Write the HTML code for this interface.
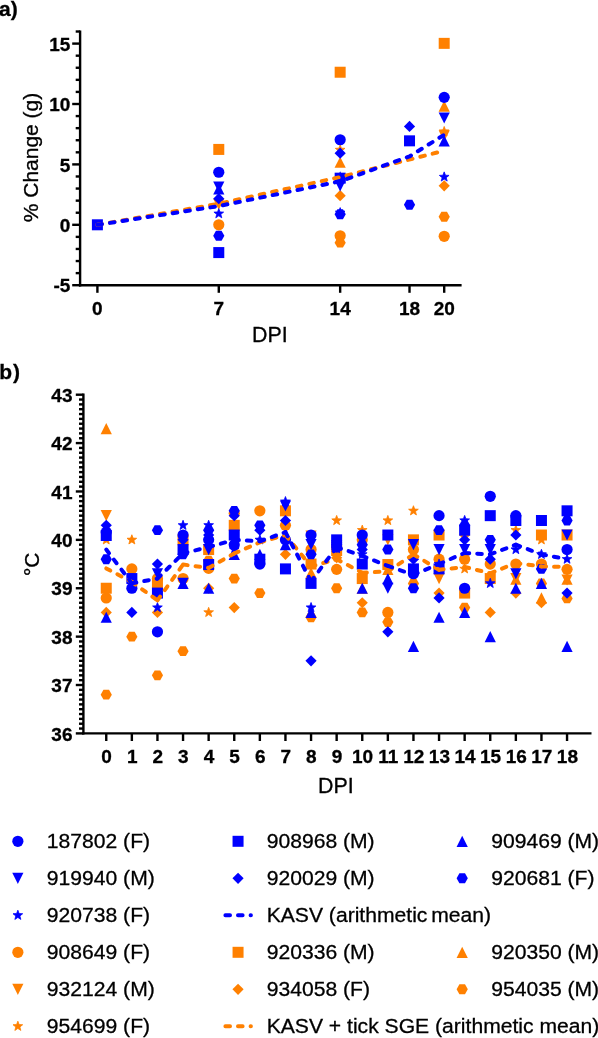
<!DOCTYPE html>
<html><head><meta charset="utf-8"><title>chart</title>
<style>html,body{margin:0;padding:0;background:#fff;}svg{display:block;will-change:transform;}text{font-family:"Liberation Sans", sans-serif;fill:#000;stroke:#000;stroke-width:0.3px;}</style></head><body>
<svg width="598" height="1038" viewBox="0 0 598 1038">
<rect x="0" y="0" width="598" height="1038" fill="#fff"/>
<text x="-1" y="15.6" font-size="21" text-anchor="start" font-weight="bold">a)</text>
<line x1="80.1" y1="30.42" x2="80.1" y2="286.4" stroke="#000" stroke-width="2.4"/>
<line x1="78.9" y1="285.2" x2="461.6" y2="285.2" stroke="#000" stroke-width="2.4"/>
<line x1="72.2" y1="285.2" x2="80.1" y2="285.2" stroke="#000" stroke-width="2.4"/>
<text x="70.3" y="292.3" font-size="19" text-anchor="end" font-weight="bold">-5</text>
<line x1="75.7" y1="273.12" x2="80.1" y2="273.12" stroke="#000" stroke-width="2.4"/>
<line x1="75.7" y1="261.04" x2="80.1" y2="261.04" stroke="#000" stroke-width="2.4"/>
<line x1="75.7" y1="248.96" x2="80.1" y2="248.96" stroke="#000" stroke-width="2.4"/>
<line x1="75.7" y1="236.88" x2="80.1" y2="236.88" stroke="#000" stroke-width="2.4"/>
<line x1="72.2" y1="224.8" x2="80.1" y2="224.8" stroke="#000" stroke-width="2.4"/>
<text x="70.3" y="231.9" font-size="19" text-anchor="end" font-weight="bold">0</text>
<line x1="75.7" y1="212.72" x2="80.1" y2="212.72" stroke="#000" stroke-width="2.4"/>
<line x1="75.7" y1="200.64" x2="80.1" y2="200.64" stroke="#000" stroke-width="2.4"/>
<line x1="75.7" y1="188.56" x2="80.1" y2="188.56" stroke="#000" stroke-width="2.4"/>
<line x1="75.7" y1="176.48" x2="80.1" y2="176.48" stroke="#000" stroke-width="2.4"/>
<line x1="72.2" y1="164.4" x2="80.1" y2="164.4" stroke="#000" stroke-width="2.4"/>
<text x="70.3" y="171.5" font-size="19" text-anchor="end" font-weight="bold">5</text>
<line x1="75.7" y1="152.32" x2="80.1" y2="152.32" stroke="#000" stroke-width="2.4"/>
<line x1="75.7" y1="140.24" x2="80.1" y2="140.24" stroke="#000" stroke-width="2.4"/>
<line x1="75.7" y1="128.16" x2="80.1" y2="128.16" stroke="#000" stroke-width="2.4"/>
<line x1="75.7" y1="116.08" x2="80.1" y2="116.08" stroke="#000" stroke-width="2.4"/>
<line x1="72.2" y1="104" x2="80.1" y2="104" stroke="#000" stroke-width="2.4"/>
<text x="70.3" y="111.1" font-size="19" text-anchor="end" font-weight="bold">10</text>
<line x1="75.7" y1="91.92" x2="80.1" y2="91.92" stroke="#000" stroke-width="2.4"/>
<line x1="75.7" y1="79.84" x2="80.1" y2="79.84" stroke="#000" stroke-width="2.4"/>
<line x1="75.7" y1="67.76" x2="80.1" y2="67.76" stroke="#000" stroke-width="2.4"/>
<line x1="75.7" y1="55.68" x2="80.1" y2="55.68" stroke="#000" stroke-width="2.4"/>
<line x1="72.2" y1="43.6" x2="80.1" y2="43.6" stroke="#000" stroke-width="2.4"/>
<text x="70.3" y="50.7" font-size="19" text-anchor="end" font-weight="bold">15</text>
<line x1="75.7" y1="31.52" x2="80.1" y2="31.52" stroke="#000" stroke-width="2.4"/>
<line x1="97.4" y1="285.2" x2="97.4" y2="292.8" stroke="#000" stroke-width="2.4"/>
<text x="97.4" y="314.6" font-size="19" text-anchor="middle" font-weight="bold">0</text>
<line x1="218.78" y1="285.2" x2="218.78" y2="292.8" stroke="#000" stroke-width="2.4"/>
<text x="218.78" y="314.6" font-size="19" text-anchor="middle" font-weight="bold">7</text>
<line x1="340.16" y1="285.2" x2="340.16" y2="292.8" stroke="#000" stroke-width="2.4"/>
<text x="340.16" y="314.6" font-size="19" text-anchor="middle" font-weight="bold">14</text>
<line x1="409.52" y1="285.2" x2="409.52" y2="292.8" stroke="#000" stroke-width="2.4"/>
<text x="409.52" y="314.6" font-size="19" text-anchor="middle" font-weight="bold">18</text>
<line x1="444.2" y1="285.2" x2="444.2" y2="292.8" stroke="#000" stroke-width="2.4"/>
<text x="444.2" y="314.6" font-size="19" text-anchor="middle" font-weight="bold">20</text>
<text x="269.8" y="342.2" font-size="21.4" text-anchor="middle">DPI</text>
<text transform="translate(37.5,157.5) rotate(-90)" font-size="21" text-anchor="middle">% Change (g)</text>
<text font-size="21" font-weight="bold" y="378.5"><tspan x="-0.8">b</tspan><tspan x="12.9">)</tspan></text>
<line x1="83.4" y1="393.6" x2="83.4" y2="734.6" stroke="#000" stroke-width="2.4"/>
<line x1="82.2" y1="733.4" x2="591.5" y2="733.4" stroke="#000" stroke-width="2.4"/>
<line x1="75.8" y1="733.4" x2="83.4" y2="733.4" stroke="#000" stroke-width="2.4"/>
<text x="72.5" y="740.5" font-size="19" text-anchor="end" font-weight="bold">36</text>
<line x1="79" y1="728.56" x2="83.4" y2="728.56" stroke="#000" stroke-width="2.4"/>
<line x1="79" y1="723.72" x2="83.4" y2="723.72" stroke="#000" stroke-width="2.4"/>
<line x1="79" y1="718.88" x2="83.4" y2="718.88" stroke="#000" stroke-width="2.4"/>
<line x1="79" y1="714.05" x2="83.4" y2="714.05" stroke="#000" stroke-width="2.4"/>
<line x1="79" y1="709.21" x2="83.4" y2="709.21" stroke="#000" stroke-width="2.4"/>
<line x1="79" y1="704.37" x2="83.4" y2="704.37" stroke="#000" stroke-width="2.4"/>
<line x1="79" y1="699.53" x2="83.4" y2="699.53" stroke="#000" stroke-width="2.4"/>
<line x1="79" y1="694.69" x2="83.4" y2="694.69" stroke="#000" stroke-width="2.4"/>
<line x1="79" y1="689.85" x2="83.4" y2="689.85" stroke="#000" stroke-width="2.4"/>
<line x1="75.8" y1="685.01" x2="83.4" y2="685.01" stroke="#000" stroke-width="2.4"/>
<text x="72.5" y="692.11" font-size="19" text-anchor="end" font-weight="bold">37</text>
<line x1="79" y1="680.18" x2="83.4" y2="680.18" stroke="#000" stroke-width="2.4"/>
<line x1="79" y1="675.34" x2="83.4" y2="675.34" stroke="#000" stroke-width="2.4"/>
<line x1="79" y1="670.5" x2="83.4" y2="670.5" stroke="#000" stroke-width="2.4"/>
<line x1="79" y1="665.66" x2="83.4" y2="665.66" stroke="#000" stroke-width="2.4"/>
<line x1="79" y1="660.82" x2="83.4" y2="660.82" stroke="#000" stroke-width="2.4"/>
<line x1="79" y1="655.98" x2="83.4" y2="655.98" stroke="#000" stroke-width="2.4"/>
<line x1="79" y1="651.14" x2="83.4" y2="651.14" stroke="#000" stroke-width="2.4"/>
<line x1="79" y1="646.31" x2="83.4" y2="646.31" stroke="#000" stroke-width="2.4"/>
<line x1="79" y1="641.47" x2="83.4" y2="641.47" stroke="#000" stroke-width="2.4"/>
<line x1="75.8" y1="636.63" x2="83.4" y2="636.63" stroke="#000" stroke-width="2.4"/>
<text x="72.5" y="643.73" font-size="19" text-anchor="end" font-weight="bold">38</text>
<line x1="79" y1="631.79" x2="83.4" y2="631.79" stroke="#000" stroke-width="2.4"/>
<line x1="79" y1="626.95" x2="83.4" y2="626.95" stroke="#000" stroke-width="2.4"/>
<line x1="79" y1="622.11" x2="83.4" y2="622.11" stroke="#000" stroke-width="2.4"/>
<line x1="79" y1="617.27" x2="83.4" y2="617.27" stroke="#000" stroke-width="2.4"/>
<line x1="79" y1="612.43" x2="83.4" y2="612.43" stroke="#000" stroke-width="2.4"/>
<line x1="79" y1="607.6" x2="83.4" y2="607.6" stroke="#000" stroke-width="2.4"/>
<line x1="79" y1="602.76" x2="83.4" y2="602.76" stroke="#000" stroke-width="2.4"/>
<line x1="79" y1="597.92" x2="83.4" y2="597.92" stroke="#000" stroke-width="2.4"/>
<line x1="79" y1="593.08" x2="83.4" y2="593.08" stroke="#000" stroke-width="2.4"/>
<line x1="75.8" y1="588.24" x2="83.4" y2="588.24" stroke="#000" stroke-width="2.4"/>
<text x="72.5" y="595.34" font-size="19" text-anchor="end" font-weight="bold">39</text>
<line x1="79" y1="583.4" x2="83.4" y2="583.4" stroke="#000" stroke-width="2.4"/>
<line x1="79" y1="578.56" x2="83.4" y2="578.56" stroke="#000" stroke-width="2.4"/>
<line x1="79" y1="573.73" x2="83.4" y2="573.73" stroke="#000" stroke-width="2.4"/>
<line x1="79" y1="568.89" x2="83.4" y2="568.89" stroke="#000" stroke-width="2.4"/>
<line x1="79" y1="564.05" x2="83.4" y2="564.05" stroke="#000" stroke-width="2.4"/>
<line x1="79" y1="559.21" x2="83.4" y2="559.21" stroke="#000" stroke-width="2.4"/>
<line x1="79" y1="554.37" x2="83.4" y2="554.37" stroke="#000" stroke-width="2.4"/>
<line x1="79" y1="549.53" x2="83.4" y2="549.53" stroke="#000" stroke-width="2.4"/>
<line x1="79" y1="544.69" x2="83.4" y2="544.69" stroke="#000" stroke-width="2.4"/>
<line x1="75.8" y1="539.86" x2="83.4" y2="539.86" stroke="#000" stroke-width="2.4"/>
<text x="72.5" y="546.96" font-size="19" text-anchor="end" font-weight="bold">40</text>
<line x1="79" y1="535.02" x2="83.4" y2="535.02" stroke="#000" stroke-width="2.4"/>
<line x1="79" y1="530.18" x2="83.4" y2="530.18" stroke="#000" stroke-width="2.4"/>
<line x1="79" y1="525.34" x2="83.4" y2="525.34" stroke="#000" stroke-width="2.4"/>
<line x1="79" y1="520.5" x2="83.4" y2="520.5" stroke="#000" stroke-width="2.4"/>
<line x1="79" y1="515.66" x2="83.4" y2="515.66" stroke="#000" stroke-width="2.4"/>
<line x1="79" y1="510.82" x2="83.4" y2="510.82" stroke="#000" stroke-width="2.4"/>
<line x1="79" y1="505.99" x2="83.4" y2="505.99" stroke="#000" stroke-width="2.4"/>
<line x1="79" y1="501.15" x2="83.4" y2="501.15" stroke="#000" stroke-width="2.4"/>
<line x1="79" y1="496.31" x2="83.4" y2="496.31" stroke="#000" stroke-width="2.4"/>
<line x1="75.8" y1="491.47" x2="83.4" y2="491.47" stroke="#000" stroke-width="2.4"/>
<text x="72.5" y="498.57" font-size="19" text-anchor="end" font-weight="bold">41</text>
<line x1="79" y1="486.63" x2="83.4" y2="486.63" stroke="#000" stroke-width="2.4"/>
<line x1="79" y1="481.79" x2="83.4" y2="481.79" stroke="#000" stroke-width="2.4"/>
<line x1="79" y1="476.95" x2="83.4" y2="476.95" stroke="#000" stroke-width="2.4"/>
<line x1="79" y1="472.12" x2="83.4" y2="472.12" stroke="#000" stroke-width="2.4"/>
<line x1="79" y1="467.28" x2="83.4" y2="467.28" stroke="#000" stroke-width="2.4"/>
<line x1="79" y1="462.44" x2="83.4" y2="462.44" stroke="#000" stroke-width="2.4"/>
<line x1="79" y1="457.6" x2="83.4" y2="457.6" stroke="#000" stroke-width="2.4"/>
<line x1="79" y1="452.76" x2="83.4" y2="452.76" stroke="#000" stroke-width="2.4"/>
<line x1="79" y1="447.92" x2="83.4" y2="447.92" stroke="#000" stroke-width="2.4"/>
<line x1="75.8" y1="443.08" x2="83.4" y2="443.08" stroke="#000" stroke-width="2.4"/>
<text x="72.5" y="450.18" font-size="19" text-anchor="end" font-weight="bold">42</text>
<line x1="79" y1="438.25" x2="83.4" y2="438.25" stroke="#000" stroke-width="2.4"/>
<line x1="79" y1="433.41" x2="83.4" y2="433.41" stroke="#000" stroke-width="2.4"/>
<line x1="79" y1="428.57" x2="83.4" y2="428.57" stroke="#000" stroke-width="2.4"/>
<line x1="79" y1="423.73" x2="83.4" y2="423.73" stroke="#000" stroke-width="2.4"/>
<line x1="79" y1="418.89" x2="83.4" y2="418.89" stroke="#000" stroke-width="2.4"/>
<line x1="79" y1="414.05" x2="83.4" y2="414.05" stroke="#000" stroke-width="2.4"/>
<line x1="79" y1="409.21" x2="83.4" y2="409.21" stroke="#000" stroke-width="2.4"/>
<line x1="79" y1="404.38" x2="83.4" y2="404.38" stroke="#000" stroke-width="2.4"/>
<line x1="79" y1="399.54" x2="83.4" y2="399.54" stroke="#000" stroke-width="2.4"/>
<line x1="75.8" y1="394.7" x2="83.4" y2="394.7" stroke="#000" stroke-width="2.4"/>
<text x="72.5" y="401.8" font-size="19" text-anchor="end" font-weight="bold">43</text>
<line x1="106.25" y1="733.4" x2="106.25" y2="741" stroke="#000" stroke-width="2.4"/>
<text x="106.6" y="762.8" font-size="19" text-anchor="middle" font-weight="bold">0</text>
<line x1="131.85" y1="733.4" x2="131.85" y2="741" stroke="#000" stroke-width="2.4"/>
<text x="132.2" y="762.8" font-size="19" text-anchor="middle" font-weight="bold">1</text>
<line x1="157.45" y1="733.4" x2="157.45" y2="741" stroke="#000" stroke-width="2.4"/>
<text x="157.8" y="762.8" font-size="19" text-anchor="middle" font-weight="bold">2</text>
<line x1="183.05" y1="733.4" x2="183.05" y2="741" stroke="#000" stroke-width="2.4"/>
<text x="183.4" y="762.8" font-size="19" text-anchor="middle" font-weight="bold">3</text>
<line x1="208.65" y1="733.4" x2="208.65" y2="741" stroke="#000" stroke-width="2.4"/>
<text x="209" y="762.8" font-size="19" text-anchor="middle" font-weight="bold">4</text>
<line x1="234.25" y1="733.4" x2="234.25" y2="741" stroke="#000" stroke-width="2.4"/>
<text x="234.6" y="762.8" font-size="19" text-anchor="middle" font-weight="bold">5</text>
<line x1="259.85" y1="733.4" x2="259.85" y2="741" stroke="#000" stroke-width="2.4"/>
<text x="260.2" y="762.8" font-size="19" text-anchor="middle" font-weight="bold">6</text>
<line x1="285.45" y1="733.4" x2="285.45" y2="741" stroke="#000" stroke-width="2.4"/>
<text x="285.8" y="762.8" font-size="19" text-anchor="middle" font-weight="bold">7</text>
<line x1="311.05" y1="733.4" x2="311.05" y2="741" stroke="#000" stroke-width="2.4"/>
<text x="311.4" y="762.8" font-size="19" text-anchor="middle" font-weight="bold">8</text>
<line x1="336.65" y1="733.4" x2="336.65" y2="741" stroke="#000" stroke-width="2.4"/>
<text x="337" y="762.8" font-size="19" text-anchor="middle" font-weight="bold">9</text>
<line x1="362.25" y1="733.4" x2="362.25" y2="741" stroke="#000" stroke-width="2.4"/>
<text x="362.6" y="762.8" font-size="19" text-anchor="middle" font-weight="bold">10</text>
<line x1="387.85" y1="733.4" x2="387.85" y2="741" stroke="#000" stroke-width="2.4"/>
<text x="388.2" y="762.8" font-size="19" text-anchor="middle" font-weight="bold">11</text>
<line x1="413.45" y1="733.4" x2="413.45" y2="741" stroke="#000" stroke-width="2.4"/>
<text x="413.8" y="762.8" font-size="19" text-anchor="middle" font-weight="bold">12</text>
<line x1="439.05" y1="733.4" x2="439.05" y2="741" stroke="#000" stroke-width="2.4"/>
<text x="439.4" y="762.8" font-size="19" text-anchor="middle" font-weight="bold">13</text>
<line x1="464.65" y1="733.4" x2="464.65" y2="741" stroke="#000" stroke-width="2.4"/>
<text x="465" y="762.8" font-size="19" text-anchor="middle" font-weight="bold">14</text>
<line x1="490.25" y1="733.4" x2="490.25" y2="741" stroke="#000" stroke-width="2.4"/>
<text x="490.6" y="762.8" font-size="19" text-anchor="middle" font-weight="bold">15</text>
<line x1="515.85" y1="733.4" x2="515.85" y2="741" stroke="#000" stroke-width="2.4"/>
<text x="516.2" y="762.8" font-size="19" text-anchor="middle" font-weight="bold">16</text>
<line x1="541.45" y1="733.4" x2="541.45" y2="741" stroke="#000" stroke-width="2.4"/>
<text x="541.8" y="762.8" font-size="19" text-anchor="middle" font-weight="bold">17</text>
<line x1="567.05" y1="733.4" x2="567.05" y2="741" stroke="#000" stroke-width="2.4"/>
<text x="567.4" y="762.8" font-size="19" text-anchor="middle" font-weight="bold">18</text>
<text x="335.9" y="792.8" font-size="21.4" text-anchor="middle">DPI</text>
<text transform="translate(39.3,564.3) rotate(-90)" font-size="21" text-anchor="middle">°C</text>
<circle cx="218.78" cy="224.8" r="5.6" fill="#ff8000"/>
<circle cx="340.16" cy="235.79" r="5.6" fill="#ff8000"/>
<circle cx="444.2" cy="236.28" r="5.6" fill="#ff8000"/>
<rect x="213.28" y="143.92" width="11" height="11" fill="#ff8000"/>
<rect x="334.66" y="66.73" width="11" height="11" fill="#ff8000"/>
<rect x="438.7" y="37.86" width="11" height="11" fill="#ff8000"/>
<polygon points="340.16,156.63 345.76,167.83 334.56,167.83" fill="#ff8000"/>
<polygon points="444.2,100.45 449.8,111.65 438.6,111.65" fill="#ff8000"/>
<polygon points="218.78,209.86 224.38,198.66 213.18,198.66" fill="#ff8000"/>
<polygon points="444.2,141.49 449.8,130.29 438.6,130.29" fill="#ff8000"/>
<polygon points="340.16,190.09 345.76,195.69 340.16,201.29 334.56,195.69" fill="#ff8000"/>
<polygon points="444.2,180.18 449.8,185.78 444.2,191.38 438.6,185.78" fill="#ff8000"/>
<polygon points="334.56,242.68 337.36,237.75 342.96,237.75 345.76,242.68 342.96,247.61 337.36,247.61" fill="#ff8000"/>
<polygon points="438.6,216.71 441.4,211.78 447,211.78 449.8,216.71 447,221.63 441.4,221.63" fill="#ff8000"/>
<polygon points="340.16,144.8 341.42,148.17 345.01,148.33 342.2,150.57 343.16,154.03 340.16,152.05 337.16,154.03 338.12,150.57 335.31,148.33 338.9,148.17" fill="#ff8000" stroke="#ff8000" stroke-width="0.8" stroke-linejoin="round"/>
<polygon points="444.2,126.44 445.46,129.81 449.05,129.97 446.24,132.2 447.2,135.67 444.2,133.68 441.2,135.67 442.16,132.2 439.35,129.97 442.94,129.81" fill="#ff8000" stroke="#ff8000" stroke-width="0.8" stroke-linejoin="round"/>
<circle cx="218.78" cy="172.25" r="5.6" fill="#0000ff"/>
<circle cx="340.16" cy="139.76" r="5.6" fill="#0000ff"/>
<circle cx="444.2" cy="97.36" r="5.6" fill="#0000ff"/>
<rect x="91.9" y="219.3" width="11" height="11" fill="#0000ff"/>
<rect x="213.28" y="247.08" width="11" height="11" fill="#0000ff"/>
<rect x="334.66" y="172.67" width="11" height="11" fill="#0000ff"/>
<rect x="404.02" y="135.34" width="11" height="11" fill="#0000ff"/>
<polygon points="218.78,183.32 224.38,194.52 213.18,194.52" fill="#0000ff"/>
<polygon points="340.16,171.24 345.76,182.44 334.56,182.44" fill="#0000ff"/>
<polygon points="444.2,135.24 449.8,146.44 438.6,146.44" fill="#0000ff"/>
<polygon points="218.78,192.71 224.38,181.51 213.18,181.51" fill="#0000ff"/>
<polygon points="340.16,191.5 345.76,180.3 334.56,180.3" fill="#0000ff"/>
<polygon points="444.2,123.61 449.8,112.41 438.6,112.41" fill="#0000ff"/>
<polygon points="218.78,193.11 224.38,198.71 218.78,204.31 213.18,198.71" fill="#0000ff"/>
<polygon points="340.16,147.57 345.76,153.17 340.16,158.77 334.56,153.17" fill="#0000ff"/>
<polygon points="409.52,120.87 415.12,126.47 409.52,132.07 403.92,126.47" fill="#0000ff"/>
<polygon points="213.18,235.79 215.98,230.86 221.58,230.86 224.38,235.79 221.58,240.72 215.98,240.72" fill="#0000ff"/>
<polygon points="334.56,214.29 337.36,209.36 342.96,209.36 345.76,214.29 342.96,219.22 337.36,219.22" fill="#0000ff"/>
<polygon points="403.92,204.75 406.72,199.82 412.32,199.82 415.12,204.75 412.32,209.68 406.72,209.68" fill="#0000ff"/>
<polygon points="218.78,208.59 220.04,211.95 223.63,212.11 220.82,214.35 221.78,217.81 218.78,215.83 215.78,217.81 216.74,214.35 213.93,212.11 217.52,211.95" fill="#0000ff" stroke="#0000ff" stroke-width="0.8" stroke-linejoin="round"/>
<polygon points="340.16,207.62 341.42,210.99 345.01,211.14 342.2,213.38 343.16,216.85 340.16,214.86 337.16,216.85 338.12,213.38 335.31,211.14 338.9,210.99" fill="#0000ff" stroke="#0000ff" stroke-width="0.8" stroke-linejoin="round"/>
<polygon points="444.2,171.86 445.46,175.23 449.05,175.39 446.24,177.63 447.2,181.09 444.2,179.11 441.2,181.09 442.16,177.63 439.35,175.39 442.94,175.23" fill="#0000ff" stroke="#0000ff" stroke-width="0.8" stroke-linejoin="round"/>
<path d="M97.4 224.8L218.78 203.78L340.16 177.08L444.2 150.75" fill="none" stroke="#ff8000" stroke-width="4" stroke-linecap="round" stroke-linejoin="round" stroke-dasharray="4.6 8.1"/>
<path d="M97.4 224.8L218.78 206.08L340.16 181.31L409.52 156.43L444.2 134.8" fill="none" stroke="#0000ff" stroke-width="4" stroke-linecap="round" stroke-linejoin="round" stroke-dasharray="4.6 8.1"/>
<circle cx="106.25" cy="597.92" r="5.6" fill="#ff8000"/>
<circle cx="131.85" cy="568.89" r="5.6" fill="#ff8000"/>
<circle cx="157.45" cy="578.56" r="5.6" fill="#ff8000"/>
<circle cx="183.05" cy="578.56" r="5.6" fill="#ff8000"/>
<circle cx="208.65" cy="568.4" r="5.6" fill="#ff8000"/>
<circle cx="234.25" cy="513.24" r="5.6" fill="#ff8000"/>
<circle cx="259.85" cy="510.82" r="5.6" fill="#ff8000"/>
<circle cx="285.45" cy="525.34" r="5.6" fill="#ff8000"/>
<circle cx="311.05" cy="549.53" r="5.6" fill="#ff8000"/>
<circle cx="336.65" cy="569.37" r="5.6" fill="#ff8000"/>
<circle cx="362.25" cy="539.86" r="5.6" fill="#ff8000"/>
<circle cx="387.85" cy="612.43" r="5.6" fill="#ff8000"/>
<circle cx="413.45" cy="549.53" r="5.6" fill="#ff8000"/>
<circle cx="439.05" cy="559.21" r="5.6" fill="#ff8000"/>
<circle cx="464.65" cy="559.21" r="5.6" fill="#ff8000"/>
<circle cx="490.25" cy="564.05" r="5.6" fill="#ff8000"/>
<circle cx="515.85" cy="564.05" r="5.6" fill="#ff8000"/>
<circle cx="541.45" cy="564.05" r="5.6" fill="#ff8000"/>
<circle cx="567.05" cy="569.37" r="5.6" fill="#ff8000"/>
<rect x="100.75" y="582.74" width="11" height="11" fill="#ff8000"/>
<rect x="151.95" y="577.9" width="11" height="11" fill="#ff8000"/>
<rect x="177.55" y="534.36" width="11" height="11" fill="#ff8000"/>
<rect x="203.15" y="544.03" width="11" height="11" fill="#ff8000"/>
<rect x="228.75" y="519.84" width="11" height="11" fill="#ff8000"/>
<rect x="279.95" y="505.32" width="11" height="11" fill="#ff8000"/>
<rect x="305.55" y="558.55" width="11" height="11" fill="#ff8000"/>
<rect x="331.15" y="545" width="11" height="11" fill="#ff8000"/>
<rect x="356.75" y="573.06" width="11" height="11" fill="#ff8000"/>
<rect x="382.35" y="559.03" width="11" height="11" fill="#ff8000"/>
<rect x="407.95" y="534.36" width="11" height="11" fill="#ff8000"/>
<rect x="433.55" y="529.52" width="11" height="11" fill="#ff8000"/>
<rect x="459.15" y="587.58" width="11" height="11" fill="#ff8000"/>
<rect x="484.75" y="573.06" width="11" height="11" fill="#ff8000"/>
<rect x="535.95" y="529.52" width="11" height="11" fill="#ff8000"/>
<rect x="561.55" y="529.52" width="11" height="11" fill="#ff8000"/>
<polygon points="106.25,422.97 111.85,434.17 100.65,434.17" fill="#ff8000"/>
<polygon points="311.05,567.16 316.65,578.36 305.45,578.36" fill="#ff8000"/>
<polygon points="362.25,582.64 367.85,593.84 356.65,593.84" fill="#ff8000"/>
<polygon points="387.85,563.77 393.45,574.97 382.25,574.97" fill="#ff8000"/>
<polygon points="515.85,573.45 521.45,584.65 510.25,584.65" fill="#ff8000"/>
<polygon points="541.45,592.32 547.05,603.52 535.85,603.52" fill="#ff8000"/>
<polygon points="567.05,573.45 572.65,584.65 561.45,584.65" fill="#ff8000"/>
<polygon points="106.25,521.26 111.85,510.06 100.65,510.06" fill="#ff8000"/>
<polygon points="311.05,541.59 316.65,530.39 305.45,530.39" fill="#ff8000"/>
<polygon points="387.85,545.46 393.45,534.26 382.25,534.26" fill="#ff8000"/>
<polygon points="439.05,584.16 444.65,572.96 433.45,572.96" fill="#ff8000"/>
<polygon points="515.85,584.16 521.45,572.96 510.25,572.96" fill="#ff8000"/>
<polygon points="567.05,585.62 572.65,574.42 561.45,574.42" fill="#ff8000"/>
<polygon points="106.25,606.83 111.85,612.43 106.25,618.03 100.65,612.43" fill="#ff8000"/>
<polygon points="157.45,606.83 163.05,612.43 157.45,618.03 151.85,612.43" fill="#ff8000"/>
<polygon points="208.65,582.64 214.25,588.24 208.65,593.84 203.05,588.24" fill="#ff8000"/>
<polygon points="234.25,602 239.85,607.6 234.25,613.2 228.65,607.6" fill="#ff8000"/>
<polygon points="285.45,548.77 291.05,554.37 285.45,559.97 279.85,554.37" fill="#ff8000"/>
<polygon points="336.65,552.16 342.25,557.76 336.65,563.36 331.05,557.76" fill="#ff8000"/>
<polygon points="362.25,597.16 367.85,602.76 362.25,608.36 356.65,602.76" fill="#ff8000"/>
<polygon points="439.05,587.48 444.65,593.08 439.05,598.68 433.45,593.08" fill="#ff8000"/>
<polygon points="464.65,529.42 470.25,535.02 464.65,540.62 459.05,535.02" fill="#ff8000"/>
<polygon points="490.25,606.83 495.85,612.43 490.25,618.03 484.65,612.43" fill="#ff8000"/>
<polygon points="515.85,587.48 521.45,593.08 515.85,598.68 510.25,593.08" fill="#ff8000"/>
<polygon points="541.45,597.16 547.05,602.76 541.45,608.36 535.85,602.76" fill="#ff8000"/>
<polygon points="100.65,694.69 103.45,689.76 109.05,689.76 111.85,694.69 109.05,699.62 103.45,699.62" fill="#ff8000"/>
<polygon points="126.25,636.63 129.05,631.7 134.65,631.7 137.45,636.63 134.65,641.56 129.05,641.56" fill="#ff8000"/>
<polygon points="151.85,675.34 154.65,670.41 160.25,670.41 163.05,675.34 160.25,680.26 154.65,680.26" fill="#ff8000"/>
<polygon points="177.45,651.14 180.25,646.22 185.85,646.22 188.65,651.14 185.85,656.07 180.25,656.07" fill="#ff8000"/>
<polygon points="203.05,560.66 205.85,555.73 211.45,555.73 214.25,560.66 211.45,565.59 205.85,565.59" fill="#ff8000"/>
<polygon points="228.65,578.56 231.45,573.64 237.05,573.64 239.85,578.56 237.05,583.49 231.45,583.49" fill="#ff8000"/>
<polygon points="254.25,593.08 257.05,588.15 262.65,588.15 265.45,593.08 262.65,598.01 257.05,598.01" fill="#ff8000"/>
<polygon points="305.45,617.27 308.25,612.35 313.85,612.35 316.65,617.27 313.85,622.2 308.25,622.2" fill="#ff8000"/>
<polygon points="331.05,588.24 333.85,583.31 339.45,583.31 342.25,588.24 339.45,593.17 333.85,593.17" fill="#ff8000"/>
<polygon points="356.65,612.43 359.45,607.51 365.05,607.51 367.85,612.43 365.05,617.36 359.45,617.36" fill="#ff8000"/>
<polygon points="382.25,622.11 385.05,617.18 390.65,617.18 393.45,622.11 390.65,627.04 385.05,627.04" fill="#ff8000"/>
<polygon points="407.85,583.4 410.65,578.48 416.25,578.48 419.05,583.4 416.25,588.33 410.65,588.33" fill="#ff8000"/>
<polygon points="459.05,607.6 461.85,602.67 467.45,602.67 470.25,607.6 467.45,612.52 461.85,612.52" fill="#ff8000"/>
<polygon points="535.85,583.4 538.65,578.48 544.25,578.48 547.05,583.4 544.25,588.33 538.65,588.33" fill="#ff8000"/>
<polygon points="561.45,598.4 564.25,593.48 569.85,593.48 572.65,598.4 569.85,603.33 564.25,603.33" fill="#ff8000"/>
<polygon points="106.25,534.76 107.51,538.12 111.1,538.28 108.29,540.52 109.25,543.98 106.25,542 103.25,543.98 104.21,540.52 101.4,538.28 104.99,538.12" fill="#ff8000" stroke="#ff8000" stroke-width="0.8" stroke-linejoin="round"/>
<polygon points="131.85,534.76 133.11,538.12 136.7,538.28 133.89,540.52 134.85,543.98 131.85,542 128.85,543.98 129.81,540.52 127,538.28 130.59,538.12" fill="#ff8000" stroke="#ff8000" stroke-width="0.8" stroke-linejoin="round"/>
<polygon points="208.65,607.33 209.91,610.7 213.5,610.86 210.69,613.1 211.65,616.56 208.65,614.58 205.65,616.56 206.61,613.1 203.8,610.86 207.39,610.7" fill="#ff8000" stroke="#ff8000" stroke-width="0.8" stroke-linejoin="round"/>
<polygon points="336.65,515.4 337.91,518.77 341.5,518.93 338.69,521.16 339.65,524.63 336.65,522.64 333.65,524.63 334.61,521.16 331.8,518.93 335.39,518.77" fill="#ff8000" stroke="#ff8000" stroke-width="0.8" stroke-linejoin="round"/>
<polygon points="362.25,525.08 363.51,528.45 367.1,528.6 364.29,530.84 365.25,534.3 362.25,532.32 359.25,534.3 360.21,530.84 357.4,528.6 360.99,528.45" fill="#ff8000" stroke="#ff8000" stroke-width="0.8" stroke-linejoin="round"/>
<polygon points="387.85,515.4 389.11,518.77 392.7,518.93 389.89,521.16 390.85,524.63 387.85,522.64 384.85,524.63 385.81,521.16 383,518.93 386.59,518.77" fill="#ff8000" stroke="#ff8000" stroke-width="0.8" stroke-linejoin="round"/>
<polygon points="413.45,505.72 414.71,509.09 418.3,509.25 415.49,511.49 416.45,514.95 413.45,512.97 410.45,514.95 411.41,511.49 408.6,509.25 412.19,509.09" fill="#ff8000" stroke="#ff8000" stroke-width="0.8" stroke-linejoin="round"/>
<polygon points="464.65,563.79 465.91,567.15 469.5,567.31 466.69,569.55 467.65,573.01 464.65,571.03 461.65,573.01 462.61,569.55 459.8,567.31 463.39,567.15" fill="#ff8000" stroke="#ff8000" stroke-width="0.8" stroke-linejoin="round"/>
<polygon points="515.85,525.08 517.11,528.45 520.7,528.6 517.89,530.84 518.85,534.3 515.85,532.32 512.85,534.3 513.81,530.84 511,528.6 514.59,528.45" fill="#ff8000" stroke="#ff8000" stroke-width="0.8" stroke-linejoin="round"/>
<polygon points="541.45,534.76 542.71,538.12 546.3,538.28 543.49,540.52 544.45,543.98 541.45,542 538.45,543.98 539.41,540.52 536.6,538.28 540.19,538.12" fill="#ff8000" stroke="#ff8000" stroke-width="0.8" stroke-linejoin="round"/>
<circle cx="106.25" cy="532.11" r="5.6" fill="#0000ff"/>
<circle cx="131.85" cy="588.24" r="5.6" fill="#0000ff"/>
<circle cx="157.45" cy="631.79" r="5.6" fill="#0000ff"/>
<circle cx="183.05" cy="535.02" r="5.6" fill="#0000ff"/>
<circle cx="208.65" cy="539.86" r="5.6" fill="#0000ff"/>
<circle cx="234.25" cy="544.69" r="5.6" fill="#0000ff"/>
<circle cx="259.85" cy="564.05" r="5.6" fill="#0000ff"/>
<circle cx="285.45" cy="539.86" r="5.6" fill="#0000ff"/>
<circle cx="311.05" cy="535.02" r="5.6" fill="#0000ff"/>
<circle cx="336.65" cy="547.11" r="5.6" fill="#0000ff"/>
<circle cx="362.25" cy="535.02" r="5.6" fill="#0000ff"/>
<circle cx="413.45" cy="573.73" r="5.6" fill="#0000ff"/>
<circle cx="439.05" cy="515.66" r="5.6" fill="#0000ff"/>
<circle cx="464.65" cy="588.24" r="5.6" fill="#0000ff"/>
<circle cx="490.25" cy="496.31" r="5.6" fill="#0000ff"/>
<circle cx="515.85" cy="515.66" r="5.6" fill="#0000ff"/>
<circle cx="567.05" cy="549.53" r="5.6" fill="#0000ff"/>
<rect x="100.75" y="530" width="11" height="11" fill="#0000ff"/>
<rect x="126.35" y="573.06" width="11" height="11" fill="#0000ff"/>
<rect x="151.95" y="587.58" width="11" height="11" fill="#0000ff"/>
<rect x="177.55" y="544.03" width="11" height="11" fill="#0000ff"/>
<rect x="203.15" y="559.03" width="11" height="11" fill="#0000ff"/>
<rect x="228.75" y="529.52" width="11" height="11" fill="#0000ff"/>
<rect x="254.35" y="553.71" width="11" height="11" fill="#0000ff"/>
<rect x="279.95" y="563.39" width="11" height="11" fill="#0000ff"/>
<rect x="305.55" y="577.9" width="11" height="11" fill="#0000ff"/>
<rect x="331.15" y="534.36" width="11" height="11" fill="#0000ff"/>
<rect x="356.75" y="558.55" width="11" height="11" fill="#0000ff"/>
<rect x="382.35" y="529.52" width="11" height="11" fill="#0000ff"/>
<rect x="407.95" y="563.39" width="11" height="11" fill="#0000ff"/>
<rect x="433.55" y="563.39" width="11" height="11" fill="#0000ff"/>
<rect x="459.15" y="524.68" width="11" height="11" fill="#0000ff"/>
<rect x="484.75" y="510.16" width="11" height="11" fill="#0000ff"/>
<rect x="510.35" y="515" width="11" height="11" fill="#0000ff"/>
<rect x="535.95" y="515" width="11" height="11" fill="#0000ff"/>
<rect x="561.55" y="505.32" width="11" height="11" fill="#0000ff"/>
<polygon points="106.25,611.67 111.85,622.87 100.65,622.87" fill="#0000ff"/>
<polygon points="183.05,577.8 188.65,589 177.45,589" fill="#0000ff"/>
<polygon points="208.65,582.64 214.25,593.84 203.05,593.84" fill="#0000ff"/>
<polygon points="234.25,548.77 239.85,559.97 228.65,559.97" fill="#0000ff"/>
<polygon points="259.85,548.77 265.45,559.97 254.25,559.97" fill="#0000ff"/>
<polygon points="285.45,539.09 291.05,550.29 279.85,550.29" fill="#0000ff"/>
<polygon points="311.05,606.83 316.65,618.03 305.45,618.03" fill="#0000ff"/>
<polygon points="336.65,539.09 342.25,550.29 331.05,550.29" fill="#0000ff"/>
<polygon points="362.25,582.64 367.85,593.84 356.65,593.84" fill="#0000ff"/>
<polygon points="387.85,572.96 393.45,584.16 382.25,584.16" fill="#0000ff"/>
<polygon points="413.45,640.71 419.05,651.91 407.85,651.91" fill="#0000ff"/>
<polygon points="439.05,611.67 444.65,622.87 433.45,622.87" fill="#0000ff"/>
<polygon points="464.65,606.83 470.25,618.03 459.05,618.03" fill="#0000ff"/>
<polygon points="490.25,631.03 495.85,642.23 484.65,642.23" fill="#0000ff"/>
<polygon points="515.85,582.64 521.45,593.84 510.25,593.84" fill="#0000ff"/>
<polygon points="541.45,577.8 547.05,589 535.85,589" fill="#0000ff"/>
<polygon points="567.05,640.71 572.65,651.91 561.45,651.91" fill="#0000ff"/>
<polygon points="157.45,579.33 163.05,568.13 151.85,568.13" fill="#0000ff"/>
<polygon points="183.05,589 188.65,577.8 177.45,577.8" fill="#0000ff"/>
<polygon points="208.65,555.13 214.25,543.93 203.05,543.93" fill="#0000ff"/>
<polygon points="285.45,511.59 291.05,500.39 279.85,500.39" fill="#0000ff"/>
<polygon points="311.05,550.29 316.65,539.09 305.45,539.09" fill="#0000ff"/>
<polygon points="336.65,551.26 342.25,540.06 331.05,540.06" fill="#0000ff"/>
<polygon points="387.85,593.84 393.45,582.64 382.25,582.64" fill="#0000ff"/>
<polygon points="413.45,550.29 419.05,539.09 407.85,539.09" fill="#0000ff"/>
<polygon points="439.05,555.13 444.65,543.93 433.45,543.93" fill="#0000ff"/>
<polygon points="464.65,555.13 470.25,543.93 459.05,543.93" fill="#0000ff"/>
<polygon points="490.25,555.13 495.85,543.93 484.65,543.93" fill="#0000ff"/>
<polygon points="515.85,579.33 521.45,568.13 510.25,568.13" fill="#0000ff"/>
<polygon points="567.05,540.62 572.65,529.42 561.45,529.42" fill="#0000ff"/>
<polygon points="106.25,519.74 111.85,525.34 106.25,530.94 100.65,525.34" fill="#0000ff"/>
<polygon points="131.85,606.83 137.45,612.43 131.85,618.03 126.25,612.43" fill="#0000ff"/>
<polygon points="157.45,558.45 163.05,564.05 157.45,569.65 151.85,564.05" fill="#0000ff"/>
<polygon points="183.05,534.26 188.65,539.86 183.05,545.46 177.45,539.86" fill="#0000ff"/>
<polygon points="208.65,529.42 214.25,535.02 208.65,540.62 203.05,535.02" fill="#0000ff"/>
<polygon points="234.25,510.06 239.85,515.66 234.25,521.26 228.65,515.66" fill="#0000ff"/>
<polygon points="259.85,524.58 265.45,530.18 259.85,535.78 254.25,530.18" fill="#0000ff"/>
<polygon points="285.45,514.9 291.05,520.5 285.45,526.1 279.85,520.5" fill="#0000ff"/>
<polygon points="311.05,655.22 316.65,660.82 311.05,666.42 305.45,660.82" fill="#0000ff"/>
<polygon points="336.65,536.68 342.25,542.28 336.65,547.88 331.05,542.28" fill="#0000ff"/>
<polygon points="362.25,543.93 367.85,549.53 362.25,555.13 356.65,549.53" fill="#0000ff"/>
<polygon points="387.85,626.19 393.45,631.79 387.85,637.39 382.25,631.79" fill="#0000ff"/>
<polygon points="413.45,553.61 419.05,559.21 413.45,564.81 407.85,559.21" fill="#0000ff"/>
<polygon points="439.05,592.32 444.65,597.92 439.05,603.52 433.45,597.92" fill="#0000ff"/>
<polygon points="464.65,534.26 470.25,539.86 464.65,545.46 459.05,539.86" fill="#0000ff"/>
<polygon points="490.25,553.61 495.85,559.21 490.25,564.81 484.65,559.21" fill="#0000ff"/>
<polygon points="515.85,529.42 521.45,535.02 515.85,540.62 510.25,535.02" fill="#0000ff"/>
<polygon points="567.05,587.48 572.65,593.08 567.05,598.68 561.45,593.08" fill="#0000ff"/>
<polygon points="100.65,559.21 103.45,554.28 109.05,554.28 111.85,559.21 109.05,564.14 103.45,564.14" fill="#0000ff"/>
<polygon points="151.85,530.18 154.65,525.25 160.25,525.25 163.05,530.18 160.25,535.11 154.65,535.11" fill="#0000ff"/>
<polygon points="177.45,554.37 180.25,549.44 185.85,549.44 188.65,554.37 185.85,559.3 180.25,559.3" fill="#0000ff"/>
<polygon points="203.05,530.18 205.85,525.25 211.45,525.25 214.25,530.18 211.45,535.11 205.85,535.11" fill="#0000ff"/>
<polygon points="228.65,510.82 231.45,505.9 237.05,505.9 239.85,510.82 237.05,515.75 231.45,515.75" fill="#0000ff"/>
<polygon points="254.25,525.34 257.05,520.41 262.65,520.41 265.45,525.34 262.65,530.27 257.05,530.27" fill="#0000ff"/>
<polygon points="305.45,554.37 308.25,549.44 313.85,549.44 316.65,554.37 313.85,559.3 308.25,559.3" fill="#0000ff"/>
<polygon points="331.05,544.69 333.85,539.77 339.45,539.77 342.25,544.69 339.45,549.62 333.85,549.62" fill="#0000ff"/>
<polygon points="356.65,544.69 359.45,539.77 365.05,539.77 367.85,544.69 365.05,549.62 359.45,549.62" fill="#0000ff"/>
<polygon points="382.25,549.53 385.05,544.61 390.65,544.61 393.45,549.53 390.65,554.46 385.05,554.46" fill="#0000ff"/>
<polygon points="407.85,588.24 410.65,583.31 416.25,583.31 419.05,588.24 416.25,593.17 410.65,593.17" fill="#0000ff"/>
<polygon points="433.45,530.18 436.25,525.25 441.85,525.25 444.65,530.18 441.85,535.11 436.25,535.11" fill="#0000ff"/>
<polygon points="459.05,525.34 461.85,520.41 467.45,520.41 470.25,525.34 467.45,530.27 461.85,530.27" fill="#0000ff"/>
<polygon points="484.65,539.86 487.45,534.93 493.05,534.93 495.85,539.86 493.05,544.78 487.45,544.78" fill="#0000ff"/>
<polygon points="535.85,568.89 538.65,563.96 544.25,563.96 547.05,568.89 544.25,573.82 538.65,573.82" fill="#0000ff"/>
<polygon points="561.45,520.5 564.25,515.57 569.85,515.57 572.65,520.5 569.85,525.43 564.25,525.43" fill="#0000ff"/>
<polygon points="157.45,602.5 158.71,605.86 162.3,606.02 159.49,608.26 160.45,611.72 157.45,609.74 154.45,611.72 155.41,608.26 152.6,606.02 156.19,605.86" fill="#0000ff" stroke="#0000ff" stroke-width="0.8" stroke-linejoin="round"/>
<polygon points="183.05,520.24 184.31,523.61 187.9,523.76 185.09,526 186.05,529.47 183.05,527.48 180.05,529.47 181.01,526 178.2,523.76 181.79,523.61" fill="#0000ff" stroke="#0000ff" stroke-width="0.8" stroke-linejoin="round"/>
<polygon points="208.65,520.24 209.91,523.61 213.5,523.76 210.69,526 211.65,529.47 208.65,527.48 205.65,529.47 206.61,526 203.8,523.76 207.39,523.61" fill="#0000ff" stroke="#0000ff" stroke-width="0.8" stroke-linejoin="round"/>
<polygon points="234.25,544.43 235.51,547.8 239.1,547.96 236.29,550.2 237.25,553.66 234.25,551.68 231.25,553.66 232.21,550.2 229.4,547.96 232.99,547.8" fill="#0000ff" stroke="#0000ff" stroke-width="0.8" stroke-linejoin="round"/>
<polygon points="259.85,534.76 261.11,538.12 264.7,538.28 261.89,540.52 262.85,543.98 259.85,542 256.85,543.98 257.81,540.52 255,538.28 258.59,538.12" fill="#0000ff" stroke="#0000ff" stroke-width="0.8" stroke-linejoin="round"/>
<polygon points="285.45,496.53 286.71,499.9 290.3,500.06 287.49,502.29 288.45,505.76 285.45,503.77 282.45,505.76 283.41,502.29 280.6,500.06 284.19,499.9" fill="#0000ff" stroke="#0000ff" stroke-width="0.8" stroke-linejoin="round"/>
<polygon points="311.05,602.5 312.31,605.86 315.9,606.02 313.09,608.26 314.05,611.72 311.05,609.74 308.05,611.72 309.01,608.26 306.2,606.02 309.79,605.86" fill="#0000ff" stroke="#0000ff" stroke-width="0.8" stroke-linejoin="round"/>
<polygon points="336.65,543.47 337.91,546.83 341.5,546.99 338.69,549.23 339.65,552.69 336.65,550.71 333.65,552.69 334.61,549.23 331.8,546.99 335.39,546.83" fill="#0000ff" stroke="#0000ff" stroke-width="0.8" stroke-linejoin="round"/>
<polygon points="362.25,549.27 363.51,552.64 367.1,552.8 364.29,555.03 365.25,558.5 362.25,556.51 359.25,558.5 360.21,555.03 357.4,552.8 360.99,552.64" fill="#0000ff" stroke="#0000ff" stroke-width="0.8" stroke-linejoin="round"/>
<polygon points="439.05,558.95 440.31,562.32 443.9,562.47 441.09,564.71 442.05,568.17 439.05,566.19 436.05,568.17 437.01,564.71 434.2,562.47 437.79,562.32" fill="#0000ff" stroke="#0000ff" stroke-width="0.8" stroke-linejoin="round"/>
<polygon points="464.65,515.4 465.91,518.77 469.5,518.93 466.69,521.16 467.65,524.63 464.65,522.64 461.65,524.63 462.61,521.16 459.8,518.93 463.39,518.77" fill="#0000ff" stroke="#0000ff" stroke-width="0.8" stroke-linejoin="round"/>
<polygon points="490.25,578.3 491.51,581.67 495.1,581.83 492.29,584.07 493.25,587.53 490.25,585.55 487.25,587.53 488.21,584.07 485.4,581.83 488.99,581.67" fill="#0000ff" stroke="#0000ff" stroke-width="0.8" stroke-linejoin="round"/>
<polygon points="515.85,544.43 517.11,547.8 520.7,547.96 517.89,550.2 518.85,553.66 515.85,551.68 512.85,553.66 513.81,550.2 511,547.96 514.59,547.8" fill="#0000ff" stroke="#0000ff" stroke-width="0.8" stroke-linejoin="round"/>
<polygon points="541.45,549.27 542.71,552.64 546.3,552.8 543.49,555.03 544.45,558.5 541.45,556.51 538.45,558.5 539.41,555.03 536.6,552.8 540.19,552.64" fill="#0000ff" stroke="#0000ff" stroke-width="0.8" stroke-linejoin="round"/>
<polygon points="567.05,554.11 568.31,557.48 571.9,557.63 569.09,559.87 570.05,563.34 567.05,561.35 564.05,563.34 565.01,559.87 562.2,557.63 565.79,557.48" fill="#0000ff" stroke="#0000ff" stroke-width="0.8" stroke-linejoin="round"/>
<path d="M106.25 568.4L131.85 581.95" fill="none" stroke="#ff8000" stroke-width="4" stroke-linecap="round" stroke-linejoin="round" stroke-dasharray="4.6 8"/>
<path d="M131.85 581.95L157.45 600.34" fill="none" stroke="#ff8000" stroke-width="4" stroke-linecap="round" stroke-linejoin="round" stroke-dasharray="4.6 8"/>
<path d="M157.45 600.34L183.05 564.53" fill="none" stroke="#ff8000" stroke-width="4" stroke-linecap="round" stroke-linejoin="round" stroke-dasharray="4.6 8"/>
<path d="M183.05 564.53L208.65 567.92" fill="none" stroke="#ff8000" stroke-width="4" stroke-linecap="round" stroke-linejoin="round" stroke-dasharray="4.6 8"/>
<path d="M208.65 567.92L234.25 553.4" fill="none" stroke="#ff8000" stroke-width="4" stroke-linecap="round" stroke-linejoin="round" stroke-dasharray="4.6 8"/>
<path d="M234.25 553.4L259.85 542.28" fill="none" stroke="#ff8000" stroke-width="4" stroke-linecap="round" stroke-linejoin="round" stroke-dasharray="4.6 8"/>
<path d="M259.85 542.28L285.45 535.02" fill="none" stroke="#ff8000" stroke-width="4" stroke-linecap="round" stroke-linejoin="round" stroke-dasharray="4.6 8"/>
<path d="M285.45 535.02L311.05 566.47" fill="none" stroke="#ff8000" stroke-width="4" stroke-linecap="round" stroke-linejoin="round" stroke-dasharray="4.6 8"/>
<path d="M311.05 566.47L336.65 559.21" fill="none" stroke="#ff8000" stroke-width="4" stroke-linecap="round" stroke-linejoin="round" stroke-dasharray="4.6 8"/>
<path d="M336.65 559.21L362.25 572.76" fill="none" stroke="#ff8000" stroke-width="4" stroke-linecap="round" stroke-linejoin="round" stroke-dasharray="4.6 8"/>
<path d="M362.25 572.76L387.85 571.31" fill="none" stroke="#ff8000" stroke-width="4" stroke-linecap="round" stroke-linejoin="round" stroke-dasharray="4.6 8"/>
<path d="M387.85 571.31L413.45 554.37" fill="none" stroke="#ff8000" stroke-width="4" stroke-linecap="round" stroke-linejoin="round" stroke-dasharray="4.6 8"/>
<path d="M413.45 554.37L439.05 569.86" fill="none" stroke="#ff8000" stroke-width="4" stroke-linecap="round" stroke-linejoin="round" stroke-dasharray="4.6 8"/>
<path d="M439.05 569.86L464.65 566.95" fill="none" stroke="#ff8000" stroke-width="4" stroke-linecap="round" stroke-linejoin="round" stroke-dasharray="4.6 8"/>
<path d="M464.65 566.95L490.25 573.24" fill="none" stroke="#ff8000" stroke-width="4" stroke-linecap="round" stroke-linejoin="round" stroke-dasharray="4.6 8"/>
<path d="M490.25 573.24L515.85 563.08" fill="none" stroke="#ff8000" stroke-width="4" stroke-linecap="round" stroke-linejoin="round" stroke-dasharray="4.6 8"/>
<path d="M515.85 563.08L541.45 566.47" fill="none" stroke="#ff8000" stroke-width="4" stroke-linecap="round" stroke-linejoin="round" stroke-dasharray="4.6 8"/>
<path d="M541.45 566.47L567.05 566.95" fill="none" stroke="#ff8000" stroke-width="4" stroke-linecap="round" stroke-linejoin="round" stroke-dasharray="4.6 8"/>
<path d="M106.25 549.53L131.85 583.4" fill="none" stroke="#0000ff" stroke-width="4" stroke-linecap="round" stroke-linejoin="round" stroke-dasharray="4.6 8"/>
<path d="M131.85 583.4L157.45 578.56" fill="none" stroke="#0000ff" stroke-width="4" stroke-linecap="round" stroke-linejoin="round" stroke-dasharray="4.6 8"/>
<path d="M157.45 578.56L183.05 553.4" fill="none" stroke="#0000ff" stroke-width="4" stroke-linecap="round" stroke-linejoin="round" stroke-dasharray="4.6 8"/>
<path d="M183.05 553.4L208.65 547.11" fill="none" stroke="#0000ff" stroke-width="4" stroke-linecap="round" stroke-linejoin="round" stroke-dasharray="4.6 8"/>
<path d="M208.65 547.11L234.25 539.86" fill="none" stroke="#0000ff" stroke-width="4" stroke-linecap="round" stroke-linejoin="round" stroke-dasharray="4.6 8"/>
<path d="M234.25 539.86L259.85 541.31" fill="none" stroke="#0000ff" stroke-width="4" stroke-linecap="round" stroke-linejoin="round" stroke-dasharray="4.6 8"/>
<path d="M259.85 541.31L285.45 532.11" fill="none" stroke="#0000ff" stroke-width="4" stroke-linecap="round" stroke-linejoin="round" stroke-dasharray="4.6 8"/>
<path d="M285.45 532.11L311.05 581.47" fill="none" stroke="#0000ff" stroke-width="4" stroke-linecap="round" stroke-linejoin="round" stroke-dasharray="4.6 8"/>
<path d="M311.05 581.47L336.65 547.11" fill="none" stroke="#0000ff" stroke-width="4" stroke-linecap="round" stroke-linejoin="round" stroke-dasharray="4.6 8"/>
<path d="M336.65 547.11L362.25 555.82" fill="none" stroke="#0000ff" stroke-width="4" stroke-linecap="round" stroke-linejoin="round" stroke-dasharray="4.6 8"/>
<path d="M362.25 555.82L387.85 565.98" fill="none" stroke="#0000ff" stroke-width="4" stroke-linecap="round" stroke-linejoin="round" stroke-dasharray="4.6 8"/>
<path d="M387.85 565.98L413.45 574.69" fill="none" stroke="#0000ff" stroke-width="4" stroke-linecap="round" stroke-linejoin="round" stroke-dasharray="4.6 8"/>
<path d="M413.45 574.69L439.05 564.05" fill="none" stroke="#0000ff" stroke-width="4" stroke-linecap="round" stroke-linejoin="round" stroke-dasharray="4.6 8"/>
<path d="M439.05 564.05L464.65 552.92" fill="none" stroke="#0000ff" stroke-width="4" stroke-linecap="round" stroke-linejoin="round" stroke-dasharray="4.6 8"/>
<path d="M464.65 552.92L490.25 554.37" fill="none" stroke="#0000ff" stroke-width="4" stroke-linecap="round" stroke-linejoin="round" stroke-dasharray="4.6 8"/>
<path d="M490.25 554.37L515.85 544.69" fill="none" stroke="#0000ff" stroke-width="4" stroke-linecap="round" stroke-linejoin="round" stroke-dasharray="4.6 8"/>
<path d="M515.85 544.69L541.45 554.37" fill="none" stroke="#0000ff" stroke-width="4" stroke-linecap="round" stroke-linejoin="round" stroke-dasharray="4.6 8"/>
<path d="M541.45 554.37L567.05 559.21" fill="none" stroke="#0000ff" stroke-width="4" stroke-linecap="round" stroke-linejoin="round" stroke-dasharray="4.6 8"/>
<circle cx="17.85" cy="841.3" r="5.6" fill="#0000ff"/>
<text x="46.8" y="848.2" font-size="21.12" text-anchor="start">187802 (F)</text>
<rect x="232.55" y="835.8" width="11" height="11" fill="#0000ff"/>
<text x="266.7" y="848.2" font-size="21.12" text-anchor="start">908968 (M)</text>
<polygon points="462.2,835.7 467.8,846.9 456.6,846.9" fill="#0000ff"/>
<text x="491.2" y="848.2" font-size="21.12" text-anchor="start">909469 (M)</text>
<polygon points="17.85,883.9 23.45,872.7 12.25,872.7" fill="#0000ff"/>
<text x="46.8" y="885.2" font-size="21.12" text-anchor="start">919940 (M)</text>
<polygon points="238.05,872.7 243.65,878.3 238.05,883.9 232.45,878.3" fill="#0000ff"/>
<text x="266.7" y="885.2" font-size="21.12" text-anchor="start">920029 (M)</text>
<polygon points="456.6,878.3 459.4,873.37 465,873.37 467.8,878.3 465,883.23 459.4,883.23" fill="#0000ff"/>
<text x="491.2" y="885.2" font-size="21.12" text-anchor="start">920681 (F)</text>
<polygon points="17.85,910.2 19.11,913.57 22.7,913.72 19.89,915.96 20.85,919.43 17.85,917.44 14.85,919.43 15.81,915.96 13,913.72 16.59,913.57" fill="#0000ff" stroke="#0000ff" stroke-width="0.8" stroke-linejoin="round"/>
<text x="46.8" y="922.2" font-size="21.12" text-anchor="start">920738 (F)</text>
<line x1="225.4" y1="915.3" x2="250.9" y2="915.3" stroke="#0000ff" stroke-width="4" stroke-linecap="round" stroke-dasharray="4.6 8"/>
<text x="266.7" y="922.2" font-size="21.12" text-anchor="start">KASV (arithmetic<tspan dx="-2"> mean)</tspan></text>
<circle cx="17.85" cy="952.3" r="5.6" fill="#ff8000"/>
<text x="46.8" y="959.2" font-size="21.12" text-anchor="start">908649 (F)</text>
<rect x="232.55" y="946.8" width="11" height="11" fill="#ff8000"/>
<text x="266.7" y="959.2" font-size="21.12" text-anchor="start">920336 (M)</text>
<polygon points="462.2,946.7 467.8,957.9 456.6,957.9" fill="#ff8000"/>
<text x="491.2" y="959.2" font-size="21.12" text-anchor="start">920350 (M)</text>
<polygon points="17.85,994.9 23.45,983.7 12.25,983.7" fill="#ff8000"/>
<text x="46.8" y="996.2" font-size="21.12" text-anchor="start">932124 (M)</text>
<polygon points="238.05,983.7 243.65,989.3 238.05,994.9 232.45,989.3" fill="#ff8000"/>
<text x="266.7" y="996.2" font-size="21.12" text-anchor="start">934058 (F)</text>
<polygon points="456.6,989.3 459.4,984.37 465,984.37 467.8,989.3 465,994.23 459.4,994.23" fill="#ff8000"/>
<text x="491.2" y="996.2" font-size="21.12" text-anchor="start">954035 (M)</text>
<polygon points="17.85,1021.2 19.11,1024.57 22.7,1024.72 19.89,1026.96 20.85,1030.43 17.85,1028.44 14.85,1030.43 15.81,1026.96 13,1024.72 16.59,1024.57" fill="#ff8000" stroke="#ff8000" stroke-width="0.8" stroke-linejoin="round"/>
<text x="46.8" y="1033.2" font-size="21.12" text-anchor="start">954699 (F)</text>
<line x1="225.4" y1="1026.3" x2="250.9" y2="1026.3" stroke="#ff8000" stroke-width="4" stroke-linecap="round" stroke-dasharray="4.6 8"/>
<text x="266.7" y="1033.2" font-size="21.12" text-anchor="start">KASV + tick SGE (arithmetic mean)</text>
</svg></body></html>
